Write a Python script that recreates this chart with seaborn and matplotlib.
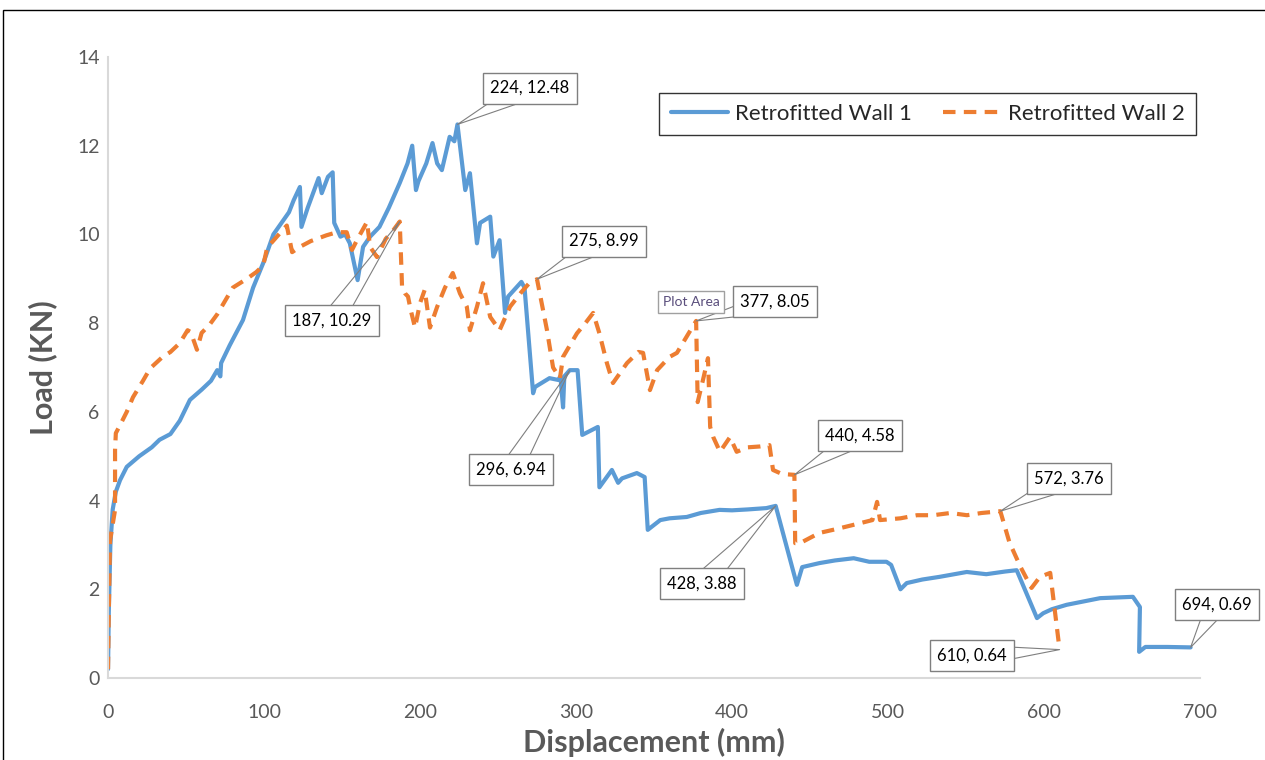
import pandas as pd
import matplotlib.pyplot as plt
import seaborn as sns
from matplotlib.patches import Rectangle

# =============================================================================
# Data
# =============================================================================

wall1_x = [0, 0.5, 1.5, 3, 5, 7.7, 12, 20, 28, 33, 40, 46, 52.5, 60, 66, 70, 72, 72.5, 78, 86.5,
           93, 100, 106, 112, 116, 119, 123, 124, 128, 135, 137, 141, 144, 145, 149, 152, 155, 160,
           163.5, 168, 174, 180, 187, 192, 195, 197.4, 199, 204, 208, 211, 214, 217, 219, 222, 224,
           229, 232, 236.5, 238.5, 245, 247, 251, 254.5, 256.5, 265, 267, 272.5, 273.7, 283, 288.5,
           290, 291.7, 292.5, 296, 301, 304, 314, 315, 323, 327, 329.5, 339, 344, 346, 354, 360,
           371, 380, 392, 400, 410, 422, 428, 441.6, 445, 456, 466, 478, 488, 499, 502, 508, 512,
           522, 533, 550.5, 563, 575, 582.5, 595.5, 599.5, 605, 614.5, 636, 657, 661.5, 661, 665,
           679, 694]
wall1_y = [0.2, 1.5, 3.0, 3.8, 4.2, 4.46, 4.76, 5.0, 5.2, 5.37, 5.5, 5.8, 6.27, 6.5, 6.7, 6.94, 6.8,
           7.1, 7.5, 8.07, 8.8, 9.4, 10.0, 10.3, 10.5, 10.77, 11.07, 10.17, 10.6, 11.27, 10.93, 11.3,
           11.4, 10.26, 9.95, 10.0, 9.8, 8.97, 9.72, 9.95, 10.17, 10.6, 11.16, 11.6, 12.0, 11.0, 11.2,
           11.6, 12.06, 11.6, 11.45, 11.9, 12.2, 12.1, 12.48, 11.0, 11.38, 9.8, 10.26, 10.4, 9.5,
           9.87, 8.23, 8.6, 8.93, 8.8, 6.42, 6.56, 6.76, 6.72, 6.8, 6.1, 6.8, 6.94, 6.94, 5.48, 5.66,
           4.3, 4.69, 4.4, 4.5, 4.62, 4.53, 3.34, 3.56, 3.6, 3.63, 3.72, 3.79, 3.78, 3.8, 3.83, 3.88,
           2.1, 2.5, 2.59, 2.65, 2.7, 2.62, 2.62, 2.55, 2.0, 2.14, 2.22, 2.28, 2.39, 2.34, 2.4, 2.43,
           1.35, 1.46, 1.55, 1.65, 1.8, 1.83, 1.6, 0.59, 0.7, 0.7, 0.69]

wall2_x = [0, 0.5, 1.3, 4.5, 4.5, 5, 7.7, 12, 16, 22.4, 27, 35, 40, 46, 51, 53, 57, 60, 65, 70, 75,
           80, 89, 95, 99.5, 102, 107, 112, 114.6, 118, 123, 130, 140, 146.8, 153, 156.4, 160, 166,
           168, 172.4, 178, 183, 187, 188.5, 190.4, 192.3, 194, 196.8, 200, 203, 206.4, 211, 216,
           221, 225.6, 230, 232, 236.5, 240.4, 245, 251, 257.7, 265, 270, 275, 281.4, 285.3, 289.7,
           291.7, 300.6, 306, 311, 315, 319.8, 323.7, 332.7, 340, 343, 347.4, 352, 360, 364.7, 371,
           377, 378, 381.4, 384.6, 386, 388, 392.3, 398.7, 403, 410, 418, 424, 426.3, 432, 440,
           440.5, 443.6, 456, 466, 477.6, 490, 493, 494.9, 508, 518.6, 529, 540, 550.6, 560, 572,
           578, 580, 585, 592, 597.4, 604, 610]
wall2_y = [0.2, 1.5, 3.1, 3.79, 5.14, 5.52, 5.7, 6.0, 6.33, 6.7, 6.98, 7.24, 7.35, 7.55, 7.84, 7.8,
           7.4, 7.78, 7.96, 8.2, 8.5, 8.8, 9.0, 9.15, 9.3, 9.7, 9.9, 10.1, 10.2, 9.6, 9.72, 9.85,
           9.98, 10.05, 10.05, 9.65, 9.9, 10.28, 9.72, 9.49, 9.9, 10.1, 10.29, 8.8, 8.67, 8.6, 8.3,
           7.9, 8.45, 8.75, 7.9, 8.37, 8.8, 9.13, 8.67, 8.37, 7.84, 8.37, 8.9, 8.14, 7.84, 8.37, 8.7,
           8.9, 8.99, 7.84, 7.0, 6.76, 7.24, 7.77, 8.0, 8.23, 7.77, 7.1, 6.65, 7.1, 7.35, 7.33, 6.49,
           6.94, 7.24, 7.33, 7.7, 8.05, 6.22, 6.72, 7.21, 5.66, 5.43, 5.1, 5.43, 5.1, 5.2, 5.22, 5.25,
           4.69, 4.6, 4.58, 3.04, 3.04, 3.27, 3.35, 3.45, 3.56, 3.97, 3.56, 3.6, 3.67, 3.67, 3.72,
           3.67, 3.72, 3.76, 3.04, 2.89, 2.5, 2.03, 2.28, 2.37, 0.64]

# labelled points: (x, y, label x, label y)
label_pts = [(224, 12.48, 270.5, 13.3), (187, 10.29, 143.6, 8.05), (275, 8.99, 318, 9.85),
             (377, 8.05, 427.6, 8.48), (296, 6.94, 258.3, 4.69), (440, 4.58, 482, 5.46),
             (428, 3.88, 380.8, 2.12), (572, 3.76, 616, 4.49), (610, 0.64, 553.8, 0.5),
             (694, 0.69, 711, 1.65)]
label_texts = ['224, 12.48', '187, 10.29', '275, 8.99', '377, 8.05', '296, 6.94',
               '440, 4.58', '428, 3.88', '572, 3.76', '610, 0.64', '694, 0.69']

series_names = ['Retrofitted Wall 1', 'Retrofitted Wall 2']

w1 = pd.DataFrame({'disp': wall1_x, 'load': wall1_y})
w2 = pd.DataFrame({'disp': wall2_x, 'load': wall2_y})

# =============================================================================
# Plot
# =============================================================================

sns.set_theme(style='white')
plt.rcParams['font.family'] = ['Lato', 'DejaVu Sans']

fig = plt.figure(figsize=(12.65, 7.6), dpi=100)
ax = fig.add_axes([0.0854, 0.1079, 0.8632, 0.8171])

sns.lineplot(data=w1, x='disp', y='load', sort=False, estimator=None, ax=ax,
             color='#5B9BD5', linewidth=3, label=series_names[0])
sns.lineplot(data=w2, x='disp', y='load', sort=False, estimator=None, ax=ax,
             color='#ED7D31', linewidth=3, linestyle=(0, (3, 2)), label=series_names[1])

ax.set_xlim(0, 700)
ax.set_ylim(0, 14)
ax.set_xticks(range(0, 701, 100))
ax.set_yticks(range(0, 15, 2))
ax.tick_params(axis='both', length=0, labelsize=14, labelcolor='#595959')
ax.tick_params(axis='y', pad=6)
ax.tick_params(axis='x', pad=19)

for s in ['top', 'right']:
    ax.spines[s].set_visible(False)
for s in ['left', 'bottom']:
    ax.spines[s].set_color('#d9d9d9')
    ax.spines[s].set_linewidth(1.5)

ax.set_xlabel('Displacement (mm)', fontsize=22, fontweight='bold', color='#595959', labelpad=5)
ax.set_ylabel('Load (KN)', fontsize=22, fontweight='bold', color='#595959', labelpad=14)

# data labels with callouts
for (px, py, tx, ty), txt in zip(label_pts, label_texts):
    ax.annotate(txt, xy=(px, py), xytext=(tx, ty), ha='center', va='center',
                fontsize=12, color='black', annotation_clip=False,
                bbox=dict(boxstyle='square,pad=0.45', fc='white', ec='#7f7f7f', lw=1),
                arrowprops=dict(arrowstyle='wedge,tail_width=1.3,shrink_factor=0.5',
                                fc='none', ec='#7f7f7f', lw=0.8, shrinkA=0, shrinkB=0,
                                patchA=None, relpos=(0.5, 0.5)))

# the "Plot Area" tooltip caught in the screenshot
ax.text(373.7, 8.48, 'Plot Area', ha='center', va='center', fontsize=10, color='#5a4e7c',
        bbox=dict(boxstyle='square,pad=0.35', fc='white', ec='#a0a0a0', lw=1))

leg = ax.legend(loc='lower left', bbox_to_anchor=(0.505, 0.874, 0.491, 0.076), mode='expand',
                ncol=2, fontsize=16, frameon=True, fancybox=False, handlelength=2.6,
                borderaxespad=0, borderpad=0.5, columnspacing=1.0, handletextpad=0.3)
leg.get_frame().set_edgecolor('black')
leg.get_frame().set_linewidth(1)

# outer chart border
fig.add_artist(Rectangle((3 / 1265, -0.1), 1.5, 0.9868 + 0.1, transform=fig.transFigure,
                         fill=False, ec='black', lw=1))

fig.savefig('out.png', dpi=100)
